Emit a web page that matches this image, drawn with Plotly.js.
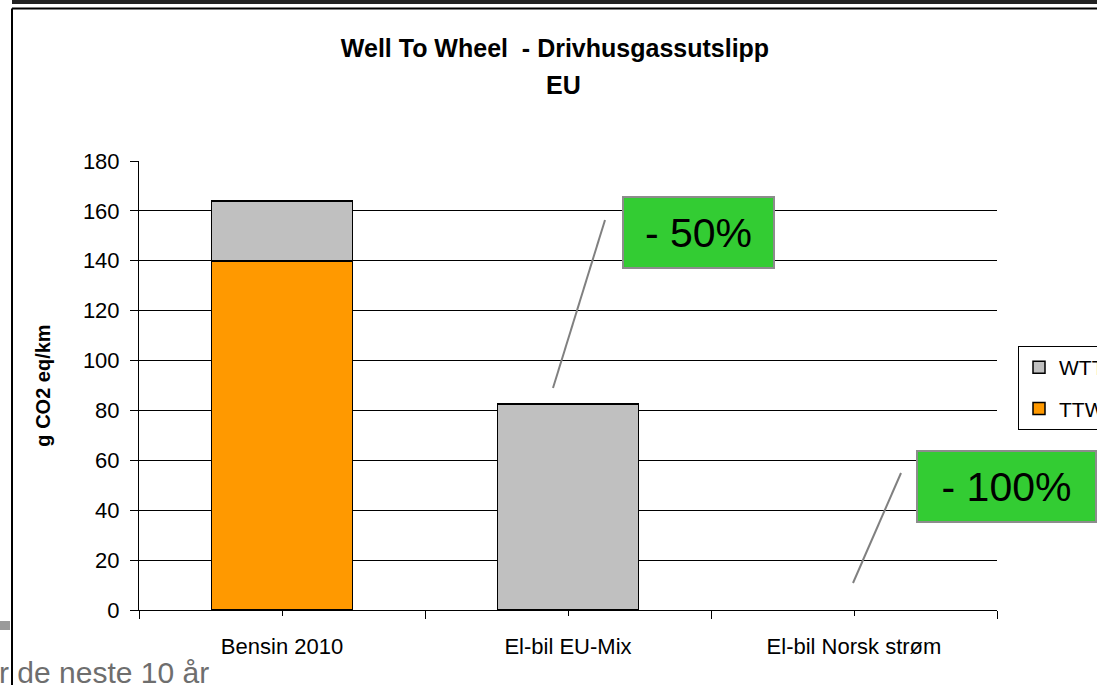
<!DOCTYPE html>
<html>
<head>
<meta charset="utf-8">
<script src="https://cdn.plot.ly/plotly-3.0.1.min.js"></script>
<style>
html,body{margin:0;padding:0;overflow:hidden;background:#fff;}
#chart{width:1160px;height:685px;}
</style>
</head>
<body>
<div id="chart"></div>
<script>
// ---- data ----
const categories = ["Bensin 2010", "El-bil EU-Mix", "El-bil Norsk strøm"];
const ttwValues = [140, 0, 0];
const wttValues = [24, 82.5, 0];
const seriesNames = ["TTW", "WTT"];
const yTicks = [0, 20, 40, 60, 80, 100, 120, 140, 160, 180];
const annotationLabels = ["- 50%", "- 100%"];
const chartTitle = "Well To Wheel \u00a0- Drivhusgassutslipp";
const chartSubtitle = "EU";
const yTitle = "g CO2 eq/km";
const footerText = "r de neste 10 år";

// ---- geometry helpers (page pixels -> paper coords) ----
const W = 1160, H = 685;
const L = 139, R = 997, T = 161, B = 610;
const px = x => (x - L) / (R - L);
const py = y => (B - y) / (B - T);

const FONT = "Liberation Sans, Arial, sans-serif";
const edge = vals => vals.map(v => (v > 0 ? 1.5 : 0));

const traces = [
  {
    type: "bar", name: seriesNames[0], x: categories, y: ttwValues,
    marker: {color: "#FF9900", line: {color: "#000", width: edge(ttwValues)}},
    legendgroup: "a", legendrank: 2, hoverinfo: "skip"
  },
  {
    type: "bar", name: seriesNames[1], x: categories, y: wttValues,
    marker: {color: "#C0C0C0", line: {color: "#000", width: edge(wttValues)}},
    legendgroup: "b", legendrank: 1, hoverinfo: "skip"
  },
  {
    type: "scatter", x: [], y: [], xaxis: "x2", yaxis: "y", showlegend: false, hoverinfo: "skip"
  }
];

const layout = {
  width: W, height: H,
  margin: {l: L, r: W - R, t: T, b: H - B, pad: 0},
  paper_bgcolor: "#fff", plot_bgcolor: "#fff",
  font: {family: FONT, color: "#000"},
  barmode: "stack",
  bargap: 0.508,
  title: {
    text: "<b>" + chartTitle + "</b>",
    font: {family: FONT, size: 25, color: "#000"},
    x: 555 / W, xanchor: "center", xref: "container",
    y: 1 - 48 / H, yanchor: "middle", yref: "container"
  },
  xaxis: {
    type: "category",
    showline: true, linecolor: "#000", linewidth: 1,
    ticks: "outside", tickson: "boundaries", ticklen: 8, tickcolor: "#000", tickwidth: 1,
    showgrid: false, zeroline: false,
    tickfont: {family: FONT, size: 22, color: "#000"},
    ticklabelstandoff: 17,
    fixedrange: true
  },
  xaxis2: {
    overlaying: "x", anchor: "y", side: "bottom",
    range: [-0.5, categories.length - 0.5],
    tickvals: categories.map((c, i) => i),
    showticklabels: false, ticks: "outside", ticklen: 5, tickcolor: "#000",
    showgrid: false, zeroline: false, showline: false, fixedrange: true
  },
  yaxis: {
    range: [0, 180],
    tickvals: yTicks,
    showline: true, linecolor: "#000", linewidth: 1,
    ticks: "outside", ticklen: 8, tickcolor: "#000",
    showgrid: true, gridcolor: "#000", gridwidth: 1,
    zeroline: false,
    tickfont: {family: FONT, size: 22, color: "#000"},
    ticklabelstandoff: 6,
    title: {text: "<b>" + yTitle + "</b>", font: {family: FONT, size: 20, color: "#000"}, standoff: 26},
    fixedrange: true
  },
  legend: {
    x: px(1018), xanchor: "left",
    y: py(346), yanchor: "top",
    bordercolor: "#000", borderwidth: 1,
    bgcolor: "#fff",
    font: {family: FONT, size: 21, color: "#000"},
    traceorder: "grouped",
    tracegroupgap: 11
  },
  annotations: [
    {
      text: "<b>" + chartSubtitle + "</b>", showarrow: false,
      xref: "paper", yref: "paper", x: px(563), y: py(85),
      xanchor: "center", yanchor: "middle",
      font: {family: FONT, size: 25, color: "#000"}
    },
    {
      text: annotationLabels[0], showarrow: false,
      xref: "paper", yref: "paper", x: px(698.5), y: py(232.5),
      xanchor: "center", yanchor: "middle",
      width: 149, height: 69, borderpad: 0,
      bgcolor: "#33CC33", bordercolor: "#8C8C8C", borderwidth: 2,
      font: {family: FONT, size: 41, color: "#000"}
    },
    {
      text: annotationLabels[1], showarrow: false,
      xref: "paper", yref: "paper", x: px(1006.5), y: py(486.5),
      xanchor: "center", yanchor: "middle",
      width: 177, height: 69, borderpad: 0,
      bgcolor: "#33CC33", bordercolor: "#8C8C8C", borderwidth: 2,
      font: {family: FONT, size: 41, color: "#000"}
    },
    {
      text: footerText, showarrow: false,
      xref: "paper", yref: "paper", x: px(-3), y: py(672),
      xanchor: "left", yanchor: "middle",
      font: {family: FONT, size: 30, color: "#6E6E6E"}
    }
  ],
  shapes: [
    // slide frame
    {type: "rect", xref: "paper", yref: "paper", x0: px(12), x1: px(1200), y0: py(0), y1: py(4),
     fillcolor: "#222", line: {width: 0}, layer: "above"},
    {type: "line", xref: "paper", yref: "paper", x0: px(12), x1: px(1200), y0: py(8.5), y1: py(8.5),
     line: {color: "#000", width: 2}},
    {type: "line", xref: "paper", yref: "paper", x0: px(12), x1: px(12), y0: py(8.5), y1: py(700),
     line: {color: "#000", width: 2}},
    {type: "rect", xref: "paper", yref: "paper", x0: px(-5), x1: px(10), y0: py(621), y1: py(630),
     fillcolor: "#9A9A9A", line: {width: 0}},
    // callout lines
    {type: "line", xref: "paper", yref: "paper", x0: px(605), y0: py(220), x1: px(553), y1: py(388),
     line: {color: "#808080", width: 2}},
    {type: "line", xref: "paper", yref: "paper", x0: px(901), y0: py(473), x1: px(853), y1: py(583),
     line: {color: "#808080", width: 2}}
  ]
};

Plotly.newPlot("chart", traces, layout, {staticPlot: true, displayModeBar: false});
</script>
</body>
</html>
